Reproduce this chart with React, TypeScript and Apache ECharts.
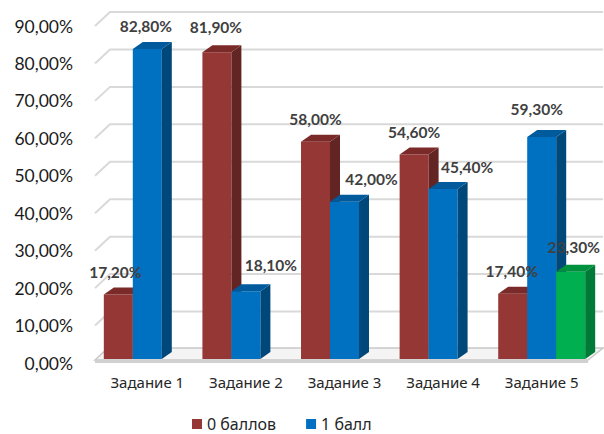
import React, { useEffect, useRef } from "react";
import * as echarts from "echarts";

const categories = ["Задание 1", "Задание 2", "Задание 3", "Задание 4", "Задание 5"];
const zeroPoints: (number | null)[] = [17.2, 81.9, 58.0, 54.6, 17.4];
const onePoint: (number | null)[] = [82.8, 18.1, 42.0, 45.4, 59.3];
const twoPoints: (number | null)[] = [null, null, null, null, 23.3];
const yTicks = [0, 10, 20, 30, 40, 50, 60, 70, 80, 90];
const seriesNames = ["0 баллов", "1 балл", "2 балла"];
const legendNames = ["0 баллов", "1 балл"];

// label placement tweaks (layout only, in px relative to bar front top centre)
const labelShiftX = [
  [-3, -1, 0, 0, -1],
  [-1.5, 25, 27, 24, -5],
  [0, 0, 0, 0, 3],
];
const labelShiftY = [
  [-23, -25, -23, -23, -23],
  [-23, -26, -23, -22, -28],
  [-24, -24, -24, -24, -25],
];

const palette = [
  { front: "#953735", top: "#7a2b29", side: "#632523" },
  { front: "#0070c0", top: "#005a9c", side: "#00477a" },
  { front: "#00b050", top: "#00913f", side: "#007a37" },
];

const DEPTH_X = 10;
const DEPTH_Y = -7;
const WALL_X = 15;
const WALL_Y = -14;
const BAR_SHIFT_Y = -4;
const BAR_FRAC = 0.294;
const EDGE = 3;

const fmt = (v: number) => v.toFixed(2).replace(".", ",") + "%";

const toData = (arr: (number | null)[]) =>
  arr.map((v, i) => (v == null ? null : [i, v])).filter((d) => d != null);

function barGeom(api: any, k: number) {
  const cat = api.value(0);
  const v = api.value(1);
  const top = api.coord([cat, v]);
  const bot = api.coord([cat, 0]);
  const bw = api.size([1, 0])[0] * BAR_FRAC;
  const x0 = top[0] - 1.5 * bw + k * bw;
  return { x0, bw, yTop: top[1] + BAR_SHIFT_Y, yBot: bot[1] + BAR_SHIFT_Y, v, cat };
}

function makeBars(k: number, values: (number | null)[]) {
  const c = palette[k];
  return {
    type: "custom",
    name: seriesNames[k],
    z: 5,
    itemStyle: { color: c.front },
    data: toData(values),
    renderItem: (params: any, api: any) => {
      const g = barGeom(api, k);
      const { x0, bw, yTop, yBot } = g;
      return {
        type: "group",
        children: [
          {
            type: "rect",
            shape: { x: x0, y: yTop, width: bw, height: yBot - yTop },
            style: { fill: c.front },
          },
          {
            type: "polygon",
            shape: {
              points: [
                [x0 + bw, yTop],
                [x0 + bw + DEPTH_X, yTop + DEPTH_Y],
                [x0 + bw + DEPTH_X, yBot + DEPTH_Y],
                [x0 + bw, yBot],
              ],
            },
            style: { fill: c.side },
          },
          {
            type: "polygon",
            shape: {
              points: [
                [x0, yTop],
                [x0 + DEPTH_X, yTop + DEPTH_Y],
                [x0 + bw + DEPTH_X, yTop + DEPTH_Y],
                [x0 + bw, yTop],
              ],
            },
            style: { fill: c.top },
          },
        ],
      };
    },
  };
}

function makeLabels(k: number, values: (number | null)[]) {
  return {
    type: "custom",
    name: "lbl" + k,
    z: 20,
    silent: true,
    data: toData(values),
    renderItem: (params: any, api: any) => {
      const g = barGeom(api, k);
      return {
        type: "text",
        x: g.x0 + g.bw / 2 + labelShiftX[k][g.cat],
        y: g.yTop + labelShiftY[k][g.cat],
        style: {
          text: fmt(g.v),
          fill: "#404040",
          fontFamily: "Lato, 'Noto Sans', sans-serif",
          fontWeight: "bold",
          fontSize: 15.5,
          align: "center",
          verticalAlign: "middle",
        },
      };
    },
  };
}

const gridSeries = {
  type: "custom",
  name: "grid",
  z: 1,
  silent: true,
  data: yTicks.map((v) => [0, v]),
  renderItem: (params: any, api: any) => {
    const cs = params.coordSys;
    const left = cs.x - EDGE;
    const right = cs.x + cs.width - EDGE;
    const y = api.coord([0, api.value(1)])[1];
    if (api.value(1) === 0) {
      return {
        type: "group",
        children: [
          {
            type: "polygon",
            shape: {
              points: [
                [left, y - 3],
                [left + WALL_X - 2, y - 3 + WALL_Y + 2],
                [right + WALL_X, y - 3 + WALL_Y + 2],
                [right, y - 3],
              ],
            },
            style: { fill: "#f4f4f4", stroke: "#c8c8c8", lineWidth: 1.5 },
          },
          {
            type: "rect",
            shape: { x: left, y: y - 3, width: right - left, height: 3 },
            style: { fill: "#d0d0d0" },
          },
        ],
      };
    }
    return {
      type: "polyline",
      shape: {
        points: [
          [left, y],
          [left + WALL_X, y + WALL_Y],
          [right + WALL_X, y + WALL_Y],
        ],
      },
      style: { stroke: "#d9d9d9", lineWidth: 2, fill: "none" },
    };
  },
};

export default function App() {
  const ref = useRef<HTMLDivElement>(null);
  useEffect(() => {
    if (!ref.current) return;
    const chart = echarts.init(ref.current, undefined, { renderer: "svg" });
    chart.setOption({
      animation: false,
      backgroundColor: "#ffffff",
      grid: { left: 98, right: 13, top: 26, bottom: 71 },
      legend: {
        data: legendNames,
        left: 192,
        bottom: 2,
        padding: 0,
        icon: "rect",
        itemWidth: 10,
        itemHeight: 10,
        itemGap: 30,
        textStyle: {
          fontSize: 16,
          color: "#262626",
          fontFamily: "'Noto Sans', sans-serif",
        },
      },
      xAxis: {
        type: "category",
        data: categories,
        axisLine: { show: false },
        axisTick: { show: false },
        splitLine: { show: false },
        axisLabel: {
          interval: 0,
          margin: 11,
          fontSize: 15,
          color: "#262626",
          fontFamily: "'Noto Sans', sans-serif",
        },
      },
      yAxis: {
        type: "value",
        min: 0,
        max: 90,
        interval: 10,
        axisLine: { show: false },
        axisTick: { show: false },
        splitLine: { show: false },
        axisLabel: {
          margin: 25,
          fontSize: 17.5,
          color: "#1a1a1a",
          fontFamily: "Lato, 'Noto Sans', sans-serif",
          formatter: (v: number) => fmt(v),
        },
      },
      series: [
        gridSeries,
        makeBars(0, zeroPoints),
        makeBars(1, onePoint),
        makeBars(2, twoPoints),
        makeLabels(0, zeroPoints),
        makeLabels(1, onePoint),
        makeLabels(2, twoPoints),
      ],
    });
    return () => chart.dispose();
  }, []);
  return <div ref={ref} style={{ width: 604, height: 434, position: "absolute", left: 0, top: 0 }} />;
}
